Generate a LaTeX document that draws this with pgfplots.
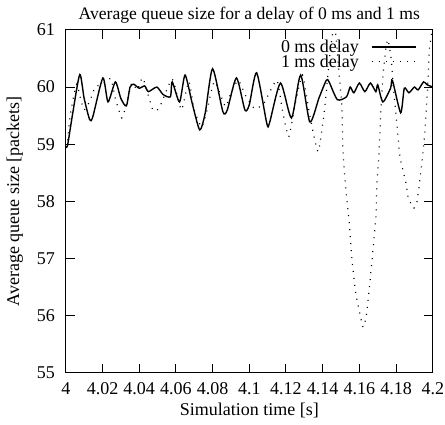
\documentclass[border=0pt]{standalone}
\usepackage{fontspec}
\setmainfont{Liberation Serif}
\usepackage{pgfplots}
\pgfplotsset{compat=1.18}
\begin{document}
\begin{tikzpicture}
\begin{axis}[
  scale only axis,
  width=183.5pt, height=171.5pt,
  font=\fontsize{9}{10}\selectfont,
  /pgf/number format/assume math mode=true,
  xmin=4, xmax=4.2, ymin=55, ymax=61,
  xtick={4,4.02,4.04,4.06,4.08,4.1,4.12,4.14,4.16,4.18,4.2},
  xticklabels={4,4.02,4.04,4.06,4.08,4.1,4.12,4.14,4.16,4.18,4.2},
  ytick={55,56,57,58,59,60,61},
  tick align=inside,
  major tick length=4.5pt,
  tick style={black, line width=0.5pt},
  axis line style={line width=0.5pt},
  xticklabel style={yshift=-1.5pt, inner xsep=0.5pt},
  yticklabel style={xshift=-2pt},
  title={Average queue size for a delay of 0 ms and 1 ms},
  title style={yshift=-6pt, font=\fontsize{8.8}{10}\selectfont},
  xlabel={Simulation time [s]},
  ylabel={Average queue size [packets]},
  xlabel style={yshift=3pt},
  legend plot pos=right,
  legend cell align=right,
  legend image code/.code={\path (0pt,0pt); \draw[#1] (5pt,0cm) -- (27pt,0cm);},
  legend style={at={(1,1)}, anchor=north east, xshift=-5pt, yshift=-2pt,
    draw=none, fill=none, row sep=-1pt,
    nodes={inner sep=1pt, text height=6pt, text depth=0.5pt}},
]
\addplot[black, line width=0.7pt, smooth, tension=0.4] coordinates {
(4.000,58.95) (4.001,58.99) (4.0038,59.55) (4.0076,60.22) (4.010,59.8) (4.013,59.43) (4.0147,59.48)
(4.0202,60.16) (4.023,59.74) (4.027,60.09) (4.030,59.8) (4.033,59.67) (4.035,60.0) (4.037,60.05)
(4.040,59.98) (4.043,60.02) (4.045,59.92) (4.0496,60.0) (4.053,59.87) (4.057,59.83) (4.058,60.09)
(4.062,59.74) (4.065,60.21) (4.069,59.7) (4.073,59.25) (4.076,59.55) (4.080,60.32) (4.0856,59.57)
(4.088,59.60) (4.093,60.16) (4.0976,59.60) (4.100,59.69) (4.104,60.25) (4.1095,59.37) (4.111,59.37)
(4.117,60.07) (4.123,59.46) (4.128,60.21) (4.133,59.39) (4.138,59.81) (4.142,60.12) (4.1435,60.09)
(4.148,59.78) (4.153,59.83) (4.155,60.0) (4.157,59.9) (4.160,60.07) (4.163,59.92) (4.166,60.07)
(4.169,59.92) (4.170,60.04) (4.1728,59.74) (4.177,59.98) (4.178,60.12) (4.1825,59.55) (4.1845,59.98)
(4.187,59.90) (4.190,60.0) (4.192,59.95) (4.195,60.09) (4.197,60.04) (4.200,60.0)
};
\addlegendentry{0 ms delay}
\addplot[black, line width=0.6pt, dash pattern=on 0.5pt off 3pt, smooth, tension=0.3] coordinates {
(4.000,58.95) (4.001,59.08) (4.0022,59.46) (4.004,59.8) (4.006,60.05) (4.008,59.8) (4.010,59.6)
(4.013,59.75) (4.016,60.0) (4.020,60.05) (4.0245,60.15) (4.027,59.8) (4.0305,59.46) (4.033,59.7)
(4.036,60.07) (4.039,59.95) (4.042,60.16) (4.0474,59.60) (4.051,59.64) (4.058,60.14) (4.063,59.6)
(4.067,60.1) (4.070,59.6) (4.074,59.3) (4.077,59.6) (4.081,60.1) (4.087,59.66) (4.090,59.9)
(4.094,60.12) (4.098,59.85) (4.103,59.62) (4.108,59.72) (4.115,60.12) (4.118,59.6) (4.1215,59.13)
(4.125,59.7) (4.129,60.21) (4.133,59.5) (4.1375,58.87) (4.141,59.6) (4.144,60.6) (4.1465,61.1)
(4.149,60.21) (4.1505,59.64) (4.151,58.93) (4.1525,58.25) (4.1545,57.62) (4.156,56.98) (4.158,56.40)
(4.162,55.80) (4.164,56.05) (4.1657,56.57) (4.1674,57.15) (4.169,57.73) (4.1696,58.32) (4.1707,58.85)
(4.1718,59.64) (4.1729,60.21) (4.1745,60.69) (4.1756,60.83) (4.1773,60.51) (4.1784,60.04) (4.180,59.51)
(4.181,59.16) (4.1822,58.76) (4.1854,58.32) (4.1865,58.08) (4.188,57.97) (4.1897,57.88) (4.1914,57.99)
(4.193,58.38) (4.1947,58.87) (4.1958,59.25) (4.1974,60.12) (4.198,60.62) (4.199,60.86) (4.200,61.1)
};
\addlegendentry{1 ms delay}
\end{axis}
\end{tikzpicture}
\end{document}
